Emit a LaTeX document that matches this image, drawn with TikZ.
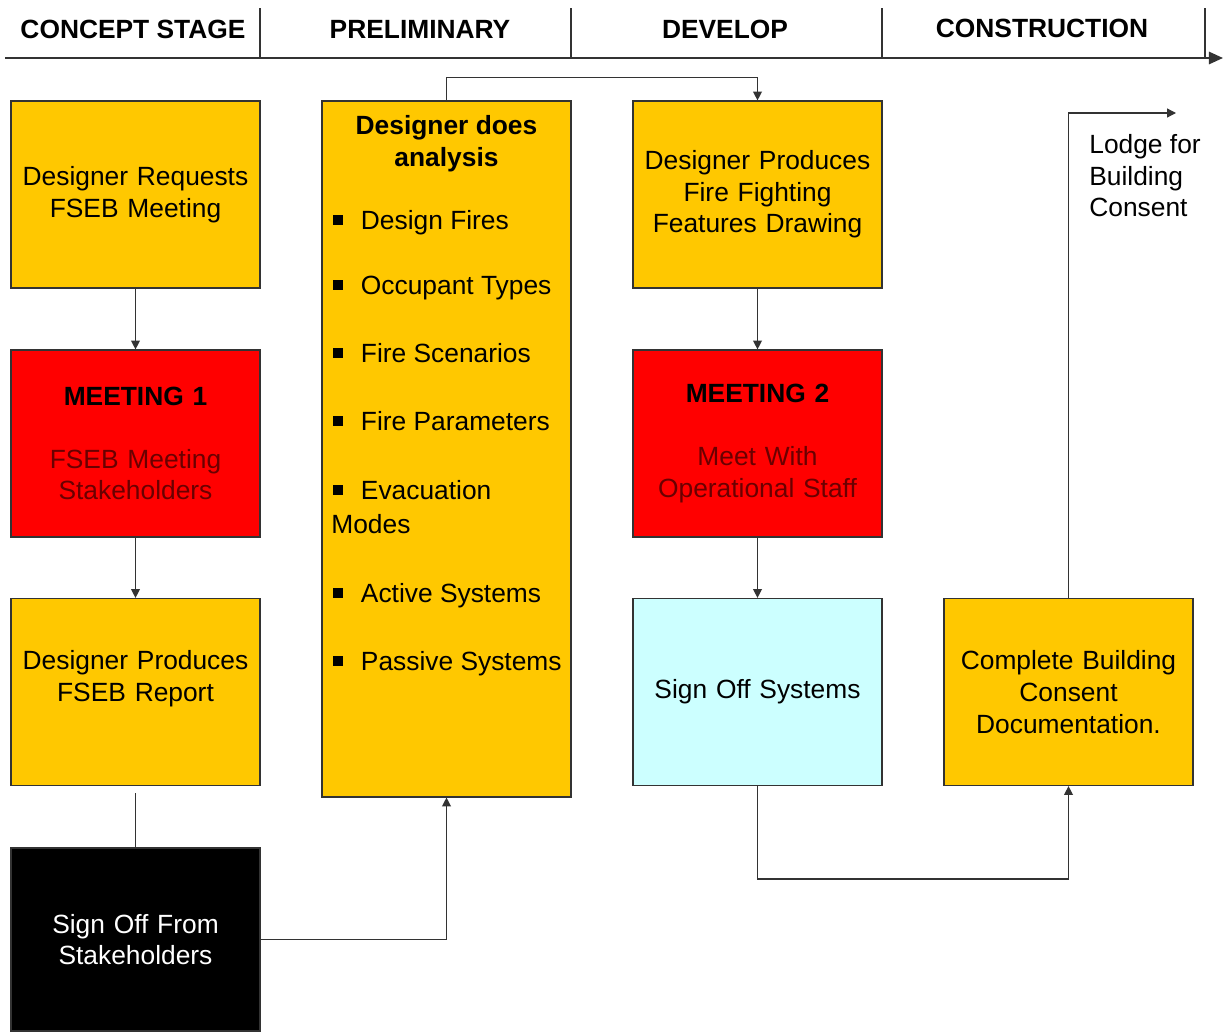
\documentclass[tikz,border=0pt]{standalone}
\usepackage{fontspec}
\setmainfont{Liberation Sans}
\usepackage{tikz}
\usetikzlibrary{arrows.meta, positioning}

\definecolor{fsebyellow}{HTML}{FFC800}
\definecolor{fsebred}{HTML}{FF0000}
\definecolor{fsebcyan}{HTML}{CCFFFF}
\definecolor{fsebmaroon}{HTML}{6A0000}
\definecolor{fsebline}{HTML}{333333}

\newcommand{\sqbullet}{\rule[2.5pt]{5.7pt}{5.7pt}\hspace{10pt}}

\begin{document}
\begin{tikzpicture}
  [x=0.02cm, y=-0.02cm,
   every node/.style={font=\fontsize{15}{18}\selectfont},
   stage/.style={font=\fontsize{15}{18}\selectfont\bfseries},
   box/.style={rectangle, draw=fsebline, line width=0.7pt, fill=fsebyellow,
               minimum width=4.98cm, minimum height=3.74cm,
               text width=4.8cm, align=center, inner sep=0pt},
   meeting/.style={box, fill=fsebred, text=fsebmaroon},
   item/.style={anchor=base west, inner sep=0pt},
   line/.style={draw=fsebline, line width=0.7pt},
   link/.style={line, -{Triangle[length=5pt, width=5pt]}}]

  \useasboundingbox (0,0) rectangle (1223,1031);

  % stages along the top
  \coordinate (tl0) at (5,58);
  \coordinate (tl1) at (1223,58);
  \draw[line, line width=1.1pt, -{Triangle[length=8pt, width=7pt]}] (tl0) -- (tl1);
  \foreach \sx in {260,571,882,1205}
    \draw[line] (\sx,8) -- (\sx,58);
  \node[stage](st1) at (133,29) {CONCEPT STAGE};
  \node[stage](st2) at (420,29) {PRELIMINARY};
  \node[stage](st3) at (725,29) {DEVELOP};
  \node[stage](st4) at (1042,28) {CONSTRUCTION};

  % concept stage column
  \node[box](req) at (135.5,194.5) {Designer Requests\\FSEB Meeting};
  \node[meeting](meet1) at (135.5,443.5)
    {\textcolor{black}{\textbf{MEETING 1}}\\[17.7pt] FSEB Meeting\\Stakeholders};
  \node[box](rep) at (135.5,692) {Designer Produces\\FSEB Report\\ \mbox{}};
  \node[box, fill=black, text=white, minimum height=3.66cm](signoff) at (135.5,939.5)
    {Sign Off From\\Stakeholders};

  % preliminary column
  \node[box, minimum height=13.92cm](ana) at (446.5,449) {};
  \node[stage, align=center, inner sep=0pt, anchor=base](anatitle) at (446.5,166.5)
    {Designer does\\analysis};
  \node[item](itm1) at (333,229.5) {\sqbullet Design Fires};
  \node[item](itm2) at (333,294.5) {\sqbullet Occupant Types};
  \node[item](itm3) at (333,362.5) {\sqbullet Fire Scenarios};
  \node[item](itm4) at (333,430.5) {\sqbullet Fire Parameters};
  \node[item](itm5) at (333,499.5) {\sqbullet Evacuation};
  \node[item](itm5b) at (331,533.5) {Modes};
  \node[item](itm6) at (333,602.5) {\sqbullet Active Systems};
  \node[item](itm7) at (333,670.5) {\sqbullet Passive Systems};

  % develop column
  \node[box](drw) at (757.5,194.5) {Designer Produces\\Fire Fighting\\Features Drawing};
  \node[meeting](meet2) at (757.5,443.5)
    {\textcolor{black}{\textbf{MEETING 2}}\\[17.7pt] Meet With\\Operational Staff};
  \node[box, fill=fsebcyan](sys) at (757.5,692) {Sign Off Systems};

  % construction column
  \node[box](doc) at (1068.5,692) {Complete Building\\Consent\\Documentation.};
  \node[anchor=north west, align=left, inner sep=0pt](lodge) at (1089,134)
    {Lodge for\\Building\\Consent};
  \coordinate (lodgeend) at (1176,113);

  % connectors
  \draw[link] (req) -- (meet1);
  \draw[link] (meet1) -- (rep);
  \draw[line, shorten <=0.14cm] (rep) -- (signoff);
  \draw[link] (signoff.east) -| (ana.south);
  \draw[link] (ana.north) -- ++(0,-23) -| (drw.north);
  \draw[link] (drw) -- (meet2);
  \draw[link] (meet2) -- (sys);
  \draw[link] (sys.south) -- ++(0,93) -| (doc.south);
  \draw[link] (doc.north) |- (lodgeend);

\end{tikzpicture}
\end{document}
